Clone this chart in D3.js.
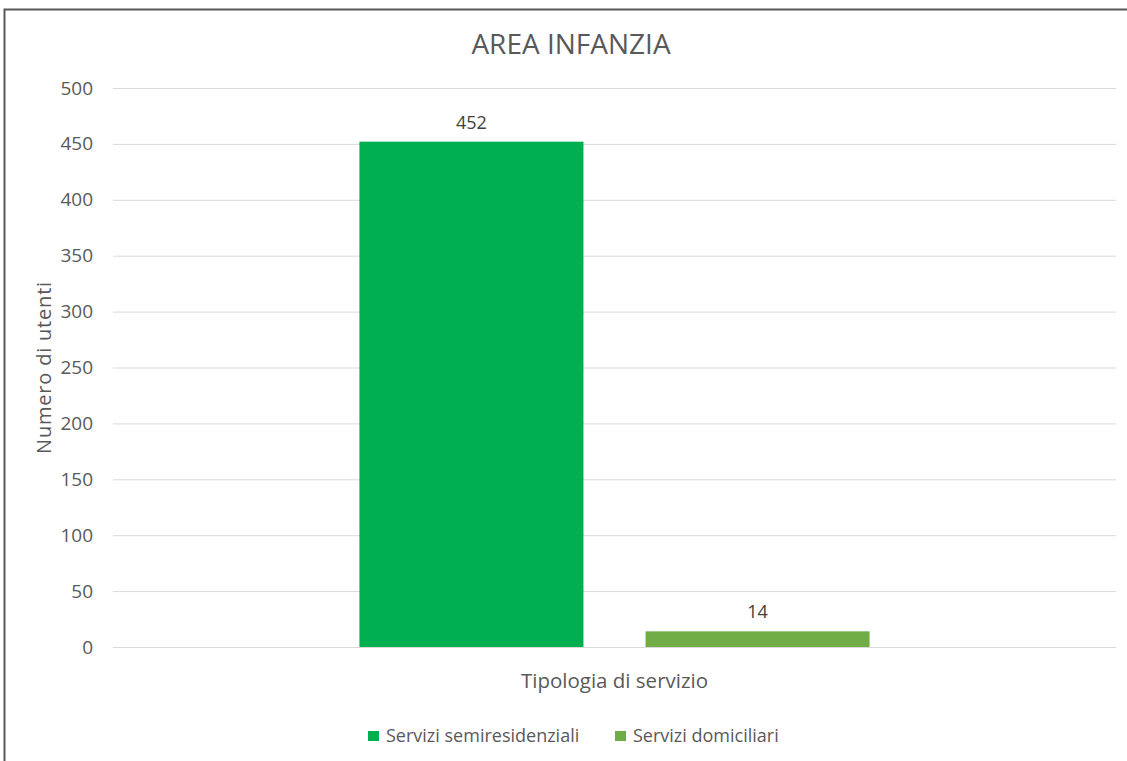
<!DOCTYPE html>
<html><head><meta charset="utf-8">
<script src="https://cdn.jsdelivr.net/npm/d3@7"></script>
<style>body{margin:0;background:#fff;} text{font-family:"Open Sans",sans-serif;}</style>
</head><body>
<svg id="c" width="1127" height="761"></svg>
<script>
const categories = ["Tipologia di servizio"];
const series = ["Servizi semiresidenziali", "Servizi domiciliari"];
const values = [452, 14];
const colors = ["#00B050", "#70AD47"];
const yTicks = [0, 50, 100, 150, 200, 250, 300, 350, 400, 450, 500];

const svg = d3.select("#c");
const W = 1127, H = 761;
const L = 113, R = 1116, T = 88, B = 647;

svg.append("rect").attr("x", 4.5).attr("y", 9.5).attr("width", W + 10).attr("height", H + 10)
  .attr("fill", "#fff").attr("stroke", "#595959").attr("stroke-width", 2);

const y = d3.scaleLinear().domain([0, 500]).range([B, T]);
const x0 = d3.scaleBand().domain(categories).range([L, R]).paddingInner(0).paddingOuter(0.483);
const x1 = d3.scaleBand().domain(series).range([0, x0.bandwidth()]).paddingInner(0.217).paddingOuter(0);

// gridlines
const yAxis = d3.axisLeft(y).tickValues(yTicks).tickSize(-(R - L)).tickPadding(20);
const ga = svg.append("g").attr("transform", `translate(${L},0)`).call(yAxis);
ga.select(".domain").remove();
ga.selectAll(".tick line").attr("stroke", "#D9D9D9").attr("stroke-width", 1);
ga.selectAll(".tick text").attr("fill", "#595959").style("font-size", "19px").attr("font-family", "Open Sans");

// bars
const g = svg.append("g");
categories.forEach(cat => {
  series.forEach((s, i) => {
    g.append("rect")
      .attr("x", x0(cat) + x1(s))
      .attr("y", y(values[i]))
      .attr("width", x1.bandwidth())
      .attr("height", y(0) - y(values[i]))
      .attr("fill", colors[i]);
    g.append("text")
      .attr("x", x0(cat) + x1(s) + x1.bandwidth() / 2)
      .attr("y", y(values[i]) - 13)
      .attr("text-anchor", "middle")
      .attr("fill", "#404040")
      .style("font-size", "18px")
      .text(values[i]);
  });
});

// title
svg.append("text").attr("x", 571).attr("y", 54).attr("text-anchor", "middle")
  .attr("fill", "#595959").style("font-size", "28px").text("AREA INFANZIA");

// axis titles
svg.append("text").attr("x", (L + R) / 2).attr("y", 688).attr("text-anchor", "middle")
  .attr("fill", "#595959").style("font-size", "20.5px").text(categories[0]);
svg.append("text").attr("transform", `translate(51,${(T + B) / 2}) rotate(-90)`).attr("text-anchor", "middle")
  .attr("fill", "#595959").style("font-size", "20px").style("letter-spacing", "0.8px").text("Numero di utenti");

// legend
const legX = [368, 615];
series.forEach((s, i) => {
  svg.append("rect").attr("x", legX[i]).attr("y", 731).attr("width", 11).attr("height", 10).attr("fill", colors[i]);
  svg.append("text").attr("x", legX[i] + 18).attr("y", 742).attr("fill", "#595959")
    .style("font-size", "18px").text(s);
});
</script>
</body></html>
